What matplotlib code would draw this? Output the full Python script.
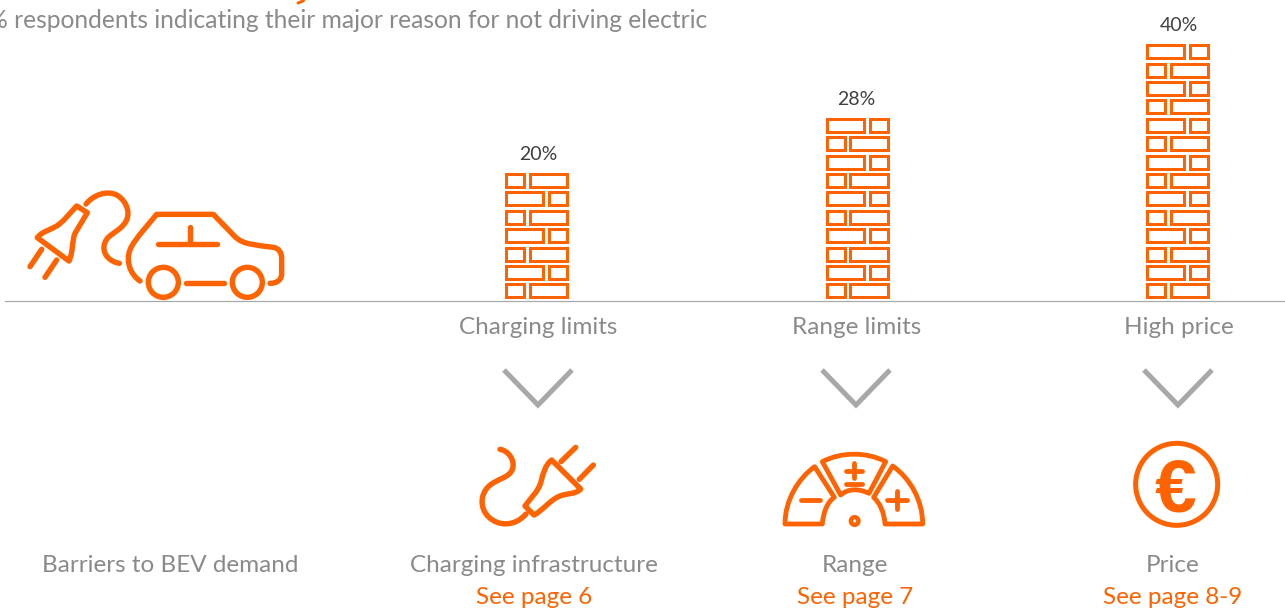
import re
import matplotlib
matplotlib.use('Agg')
import matplotlib.pyplot as plt
from matplotlib.path import Path
from matplotlib.patches import PathPatch, Circle

# data
categories = ['Charging limits', 'Range limits', 'High price']
values = [20, 28, 40]
value_labels = ['20%', '28%', '40%']
barriers = ['Charging infrastructure', 'Range', 'Price']
page_refs = ['See page 6', 'See page 7', 'See page 8-9']
subtitle = '% respondents indicating their major reason for not driving electric'
left_label = 'Barriers to BEV demand'

ORANGE = '#FF6200'
GREY = '#8a8a8a'
LINE_GREY = '#a8a8a8'
DARK = '#404040'
FONT = 'Lato'
PX = 0.72  # 1 px in points at dpi 100

plt.rcParams['font.family'] = [FONT, 'DejaVu Sans']

fig = plt.figure(figsize=(12.85, 6.11), dpi=100)
ax = fig.add_axes([0, 0, 1, 1])
ax.set_xlim(0, 1285)
ax.set_ylim(611, 0)
ax.axis('off')

# layout
bar_left = [506.3, 826.8, 1147.2]
bar_width = 60.7
label_x = [538, 856.5, 1179]
value_x = [538.5, 856.5, 1179]
chevron_x = [538, 856, 1178]
barrier_x = [534, 855, 1173]
baseline = 297.4
row_pitch = 18.4
brick_h = 13
rows_per_pct = 0.35
small_w = 18
gap = 5.6
text_size = 17.5


def svg_path(d, ox=0, oy=0, s=1 / 3):
    codes = {'M': [Path.MOVETO], 'L': [Path.LINETO], 'C': [Path.CURVE4] * 3}
    verts, kinds = [], []
    for cmd, args in re.findall(r'([MLCZ])([^MLCZ]*)', d):
        if cmd == 'Z':
            verts.append(verts[0])
            kinds.append(Path.CLOSEPOLY)
            continue
        nums = [float(n) for n in args.split()]
        for i in range(0, len(nums), 2):
            verts.append((ox + nums[i] * s, oy + nums[i + 1] * s))
        kinds += codes[cmd]
    return Path(verts, kinds)


def stroke(d, ox=0, oy=0, lw=5.4, color=ORANGE):
    ax.add_patch(PathPatch(svg_path(d, ox, oy), fill=False, edgecolor=color, lw=lw * PX,
                           capstyle='round', joinstyle='round'))


def ring(x, y, r, lw=5.4):
    ax.add_patch(Circle((x, y), r, fill=False, edgecolor=ORANGE, lw=lw * PX))


# bars made of bricks
for i, v in enumerate(values):
    rows = round(v * rows_per_pct)
    for r in range(rows):
        top = baseline - row_pitch * r - brick_h
        long_w = bar_width - small_w - gap
        if r % 2 == 0:
            parts = [(bar_left[i], small_w), (bar_left[i] + small_w + gap, long_w)]
        else:
            parts = [(bar_left[i], long_w), (bar_left[i] + long_w + gap, small_w)]
        for x0, w in parts:
            ax.bar(x0, brick_h, width=w, bottom=top, align='edge', facecolor='none',
                   edgecolor=ORANGE, lw=3 * PX)
    ax.text(value_x[i], baseline - row_pitch * rows - 14, value_labels[i], ha='center', va='center',
            fontsize=14, color=DARK)
    ax.text(label_x[i], 328, categories[i], ha='center', va='center', fontsize=text_size, color=GREY)
    cx = chevron_x[i]
    ax.plot([cx - 34, cx, cx + 34], [370, 405, 370], color=LINE_GREY, lw=5 * PX,
            solid_joinstyle='miter', solid_capstyle='butt')
    ax.text(barrier_x[i], 566, barriers[i], ha='center', va='center', fontsize=text_size, color=GREY)
    ax.text(barrier_x[i], 598, page_refs[i], ha='center', va='center', fontsize=text_size, color=ORANGE)

ax.plot([5, 1285], [300.5, 300.5], color=LINE_GREY, lw=1.2 * PX)

ax.text(707, 21, subtitle, ha='right', va='center', fontsize=17.7, color=GREY, clip_on=True)
ax.text(170, 566, left_label, ha='center', va='center', fontsize=text_size, color=GREY)

# descender of the title cropped by the top edge
ax.plot([305, 303, 298], [-2, 1, 3], color=ORANGE, lw=3 * PX, solid_capstyle='round')

# car icon
o = (0, 170)
stroke('M420 333 C395 315 385 290 385 265 C385 230 410 205 470 133 L640 133 L705 200 '
       'C730 225 770 225 820 232 C838 235 845 250 845 265 L845 310 C845 330 830 340 810 340', *o)
stroke('M475 222 L650 222', *o)
stroke('M570 170 L570 222', *o)
stroke('M558 340 L672 340', *o)
ring(490 / 3, 170 + 337 / 3, 15)
ring(742 / 3, 170 + 337 / 3, 15)
stroke('M112 203 L207 273 C220 245 215 215 225 190 L262 128 L230 108 C205 135 190 155 170 168 '
       'C150 180 125 185 112 203 Z', *o)
stroke('M125 238 L90 290', *o)
stroke('M170 270 L135 322', *o)
stroke('M258 102 C280 75 320 60 350 75 C385 95 395 140 370 165 C350 190 315 195 312 230 '
       'C310 255 330 275 358 280', *o)

# plug icon
o = (460, 430)
stroke('M120 58 C145 62 165 90 158 115 C150 145 110 145 85 170 C60 195 60 235 85 260 '
       'C115 290 165 290 198 252', *o)
stroke('M195 228 L222 255 C250 240 265 215 295 200 C320 188 345 195 362 177 L275 90 '
       'C255 105 250 130 243 155 C235 185 215 200 195 228 Z', *o)
stroke('M303 95 L347 52', *o)
stroke('M358 148 L400 105', *o)

# range gauge icon
o = (770, 440)
gauge_lw = 4.8
stroke('M45 252 C45 180 85 115 134 80 L193 172 C173 185 160 215 157 252 Z', *o, lw=gauge_lw)
stroke('M157 65 C215 35 290 35 347 65 L297 160 C265 145 235 145 212 165 Z', *o, lw=gauge_lw)
stroke('M368 78 C420 115 458 180 458 252 L345 252 C342 215 330 190 311 172 Z', *o, lw=gauge_lw)
stroke('M92 180 L150 180', *o, lw=gauge_lw)
stroke('M228 92 L275 92', *o, lw=gauge_lw)
stroke('M252 68 L252 115', *o, lw=gauge_lw)
stroke('M228 132 L275 132', *o, lw=gauge_lw)
stroke('M352 180 L410 180', *o, lw=gauge_lw)
stroke('M381 152 L381 208', *o, lw=gauge_lw)
ring(770 + 254 / 3, 440 + 243 / 3, 3.8, lw=4.4)

# euro icon
ring(1120 + 170 / 3, 430 + 163 / 3, 41, lw=5)
ax.text(1175.5, 484, '€', ha='center', va='center_baseline', fontsize=54, fontweight='bold',
        color=ORANGE, family='Liberation Sans')

fig.savefig('out.png', dpi=100)
